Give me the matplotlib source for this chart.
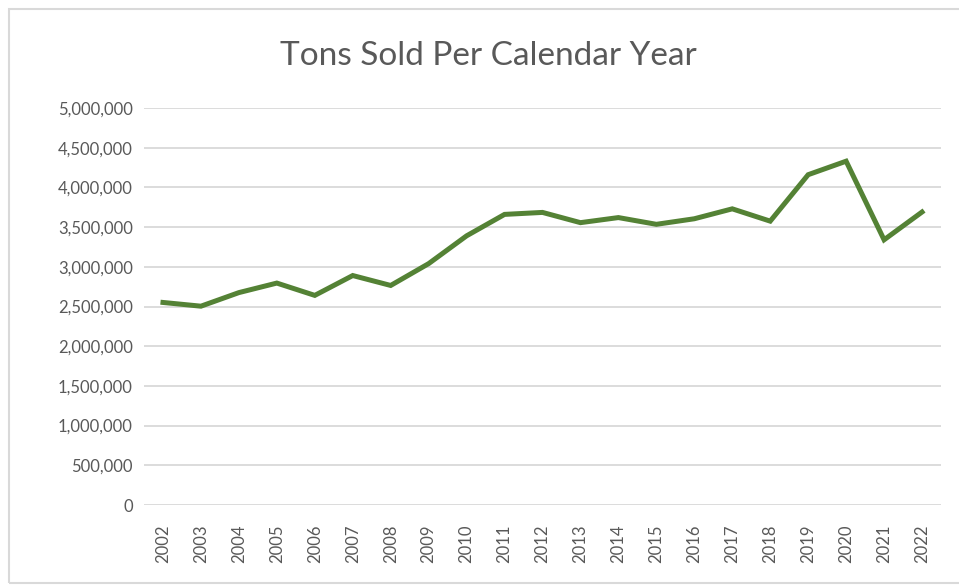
import matplotlib
matplotlib.use("Agg")
import matplotlib.pyplot as plt
from matplotlib.patches import Rectangle
from matplotlib.ticker import FuncFormatter

# dados
anos = ['2002', '2003', '2004', '2005', '2006', '2007', '2008', '2009', '2010', '2011', '2012',
        '2013', '2014', '2015', '2016', '2017', '2018', '2019', '2020', '2021', '2022']
toneladas = [2551000, 2504000, 2675000, 2795000, 2640000, 2890000, 2765000, 3040000, 3390000,
             3660000, 3685000, 3556000, 3620000, 3535000, 3605000, 3730000, 3575000, 4160000,
             4330000, 3340000, 3690000]
titulo = 'Tons Sold Per Calendar Year'

COR_LINHA = '#548235'
COR_TEXTO = '#595959'
COR_GRADE = '#D9D9D9'

plt.rcParams['font.family'] = ['Lato', 'DejaVu Sans']

fig = plt.figure(figsize=(9.59, 5.85), dpi=100)
W, H = 959, 585

# borda do gráfico
fig.patches.append(Rectangle((8.5 / W, 1 - 583 / H), (W + 5) / W, (583 - 9) / H,
                             transform=fig.transFigure, fill=False,
                             edgecolor=COR_GRADE, linewidth=1.5))

ax = fig.add_axes([144 / W, 1 - 505 / H, (941 - 144) / W, (505 - 108) / H])

x = range(len(anos))
ax.plot(x, toneladas, color=COR_LINHA, linewidth=3.6, solid_joinstyle='miter', zorder=3)

ax.set_xlim(-0.5, len(anos) - 0.5)
ax.set_ylim(0, 5000000)
ax.set_yticks(range(0, 5000001, 500000))
ax.yaxis.set_major_formatter(FuncFormatter(lambda v, p: f'{int(v):,}'))
ax.set_xticks(list(x))
ax.set_xticklabels(anos, rotation=90)

ax.grid(axis='y', color=COR_GRADE, linewidth=1.3)
ax.set_axisbelow(True)
for lado in ['top', 'right', 'left', 'bottom']:
    ax.spines[lado].set_visible(False)
ax.tick_params(axis='both', length=0, colors=COR_TEXTO, labelsize=12)
ax.tick_params(axis='y', pad=8)
ax.tick_params(axis='x', pad=14)

fig.text(488 / W, 1 - 56 / H, titulo, ha='center', va='center', fontsize=24, color=COR_TEXTO)

fig.savefig('out.png', dpi=100)
